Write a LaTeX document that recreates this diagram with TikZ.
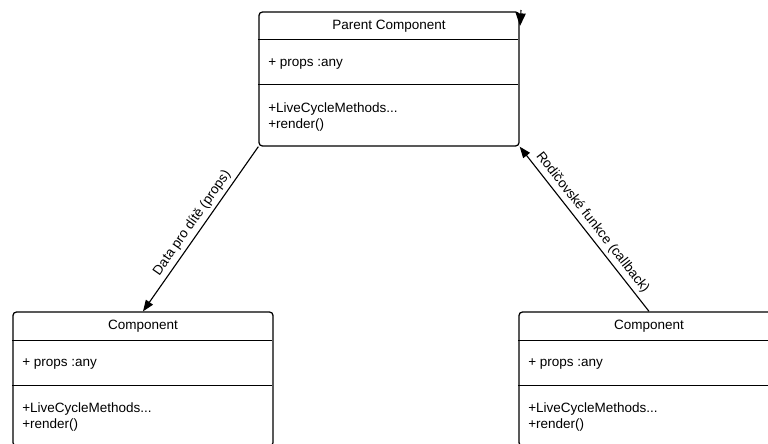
\documentclass[tikz,border=0pt]{standalone}
\usepackage{fontspec}
\setmainfont{Liberation Sans}
\usetikzlibrary{arrows.meta,positioning}
\tikzset{
  >={Triangle[length=8pt,width=6pt]},
  cls/.style = {draw, line width=0.9pt, rounded corners=2.5pt, minimum width=6.5cm, minimum height=3.35cm, inner sep=0pt},
  sep/.style = {line width=0.9pt},
  head/.style = {inner sep=0pt, font=\fontsize{9.6}{11.4}\selectfont},
  member/.style = {anchor=west, align=left, inner sep=0pt, font=\fontsize{9.6}{11.4}\selectfont},
  link/.style = {->, line width=0.8pt},
  lbl/.style = {sloped, above, inner sep=2.5pt, font=\fontsize{9.6}{11.4}\selectfont},
}

\begin{document}
\begin{tikzpicture}[x=0.025cm, y=-0.025cm]
  \useasboundingbox (0,0) rectangle (768,443);
  \clip (0,0) rectangle (768,443);

  % parent class
  \node[cls] (parent) at (389,79) {};
  \draw[sep] (parent.north west) ++(0,28) -- ++(260,0);
  \draw[sep] (parent.north west) ++(0,73) -- ++(260,0);
  \node[head] (parenttitle) at (389,26) {Parent Component};
  \node[member] (parentprops) at (268,64) {+ props :any};
  \node[member] (parentops) at (268,117) {+LiveCycleMethods...\\+render()};

  % left child
  \node[cls] (left) at (143,379) {};
  \draw[sep] (left.north west) ++(0,29) -- ++(260,0);
  \draw[sep] (left.north west) ++(0,74) -- ++(260,0);
  \node[head] (lefttitle) at (143,326) {Component};
  \node[member] (leftprops) at (22,364) {+ props :any};
  \node[member] (leftops) at (22,417) {+LiveCycleMethods...\\+render()};

  % right child
  \node[cls] (right) at (649,379) {};
  \draw[sep] (right.north west) ++(0,29) -- ++(260,0);
  \draw[sep] (right.north west) ++(0,74) -- ++(260,0);
  \node[head] (righttitle) at (649,326) {Component};
  \node[member] (rightprops) at (528,364) {+ props :any};
  \node[member] (rightops) at (528,417) {+LiveCycleMethods...\\+render()};

  % connectors
  \draw[link] (parent.south west) -- node[lbl] {Data pro dítě (props)} (left.north);
  \draw[link] (right.north) -- node[lbl] {Rodičovské funkce (callback)} (parent.south east);

  % stray tip on the parent corner
  \coordinate (stubtop) at (521,10);
  \coordinate (stubtip) at (520,26);
  \draw[link, -{Triangle[length=9pt,width=7pt]}] (stubtop) -- (stubtip);
\end{tikzpicture}
\end{document}
